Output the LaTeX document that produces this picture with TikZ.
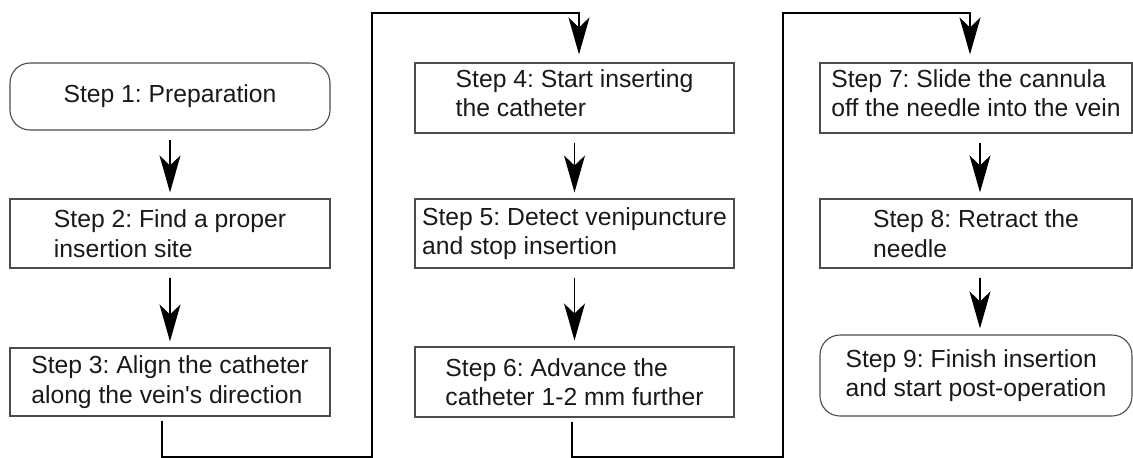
\documentclass[tikz,border=0pt]{standalone}
\usepackage{fontspec}
\setmainfont{Liberation Sans}
\usetikzlibrary{arrows.meta}
\frenchspacing

\begin{document}
\begin{tikzpicture}[x=1pt,y=-1pt,
  stepbox/.style={draw=black!70, line width=1.1pt, rectangle, align=left,
    inner sep=0pt, text=black!90,
    font=\fontsize{24.7}{29.5}\selectfont},
  roundbox/.style={stepbox, rounded corners=20pt},
  headtip/.style={-{Stealth[length=37pt,width=21pt,inset=10pt]}},
  flow/.style={headtip, line width=1.4pt, shorten <=9pt, shorten >=6pt},
  link/.style={headtip, line width=2pt, line join=miter, shorten <=4pt, shorten >=8pt}
]
\useasboundingbox (0,0) rectangle (1133,458);

% first column
\node[roundbox, minimum width=320pt, minimum height=67pt] (s1) at (170,96.5)
  {Step 1: Preparation};
\node[stepbox, minimum width=320pt, minimum height=69pt] (s2) at (170,233.5)
  {Step 2: Find a proper\\insertion site};
\node[stepbox, minimum width=320pt, minimum height=68pt] (s3) at (170,382)
  {Step 3: Align the catheter\\along the vein\textquotesingle s direction};

% second column
\node[stepbox, minimum width=319pt, minimum height=70pt, text depth=10pt] (s4) at (574.5,98)
  {Step 4: Start inserting\\the catheter};
\node[stepbox, minimum width=319pt, minimum height=69pt] (s5) at (574.5,233.5)
  {Step 5: Detect venipuncture\\and stop insertion};
\node[stepbox, minimum width=319pt, minimum height=70pt] (s6) at (574.5,382)
  {Step 6: Advance the\\catheter 1-2 mm further};

% third column
\node[stepbox, minimum width=312pt, minimum height=70pt, text depth=10pt] (s7) at (976,98)
  {Step 7: Slide the cannula\\off the needle into the vein};
\node[stepbox, minimum width=312pt, minimum height=69pt] (s8) at (976,233.5)
  {Step 8: Retract the\\needle};
\node[roundbox, minimum width=312pt, minimum height=81pt] (s9) at (976,375.5)
  {Step 9: Finish insertion\\and start post-operation};

% bends of the column-to-column links
\coordinate (b1) at (372,457);
\coordinate (b2) at (372,13);
\coordinate (b3) at (782.5,457);
\coordinate (b4) at (782.5,13);

% arrows inside the columns
\draw[flow] (s1) -- (s2);
\draw[flow] (s2) -- (s3);
\draw[flow] (s4) -- (s5);
\draw[flow] (s5) -- (s6);
\draw[flow] ([xshift=4pt]s7.south) -- ([xshift=4pt]s8.north);
\draw[flow] ([xshift=4pt]s8.south) -- ([xshift=4pt]s9.north);

% links between the columns
\draw[link] ([xshift=-8pt]s3.south) |- (b1) -- (b2) -| ([xshift=4.5pt]s4.north);
\draw[link] ([xshift=-2.5pt]s6.south) |- (b3) -- (b4) -| ([xshift=-6pt]s7.north);
\end{tikzpicture}
\end{document}
